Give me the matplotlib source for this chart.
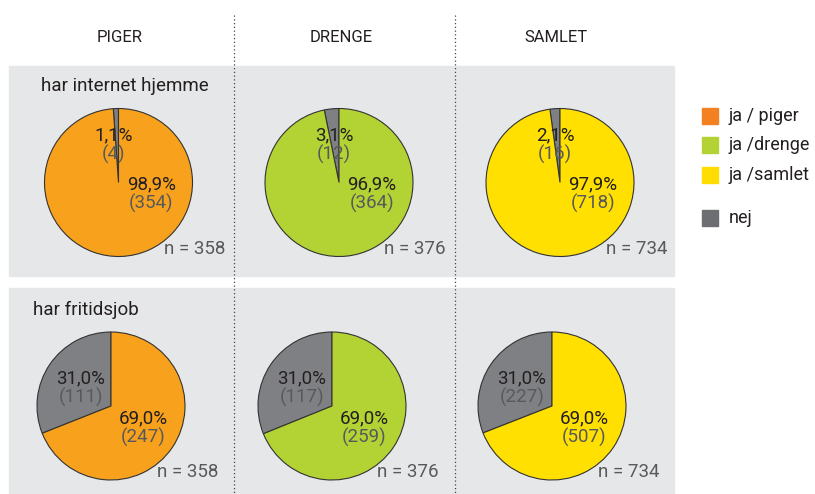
import matplotlib.pyplot as plt
from matplotlib.patches import Rectangle

plt.rcParams['font.family'] = ['Roboto', 'DejaVu Sans']

# --- data ---
grupper = ['PIGER', 'DRENGE', 'SAMLET']
spoergsmaal = ['har internet hjemme', 'har fritidsjob']
n_total = [358, 376, 734]

internet_ja = [354, 364, 718]
internet_nej = [4, 12, 16]
internet_ja_pct = ['98,9%', '96,9%', '97,9%']
internet_nej_pct = ['1,1%', '3,1%', '2,1%']

job_ja = [247, 259, 507]
job_nej = [111, 117, 227]
job_ja_pct = ['69,0%', '69,0%', '69,0%']
job_nej_pct = ['31,0%', '31,0%', '31,0%']

legend_labels = ['ja / piger', 'ja /drenge', 'ja /samlet', 'nej']

# --- styles ---
W, H = 815, 494
farver_pie = ['#F7A11C', '#B3D234', '#FFE000']
farver_legend = ['#F38021', '#B3D234', '#FFDD00', '#6D6E71']
graa_pie = '#7F8084'
panel_farve = '#E6E7E8'
tekst = '#231F20'
tekst_graa = '#58595B'

fig = plt.figure(figsize=(W / 100, H / 100), dpi=100)
ax = fig.add_axes([0, 0, 1, 1])

def py(y):
    # pixel y (fra toppen) -> data y
    return H - y

# paneler
ax.add_patch(Rectangle((9, py(276)), 665, 210, color=panel_farve, zorder=0))
ax.add_patch(Rectangle((9, py(494)), 665, 206, color=panel_farve, zorder=0))

# stiplede skillelinjer
for x in [234, 455]:
    ax.plot([x, x], [py(15), py(494)], ls=(0, (1, 2)), color='#444444', lw=0.9, zorder=5)

# kolonneoverskrifter
for x, g in zip([120, 341, 556], grupper):
    ax.text(x, py(38), g, ha='center', va='center', fontsize=12, color=tekst)

# rækketitler
ax.text(41, py(86), spoergsmaal[0], ha='left', va='center', fontsize=13.5, color=tekst)
ax.text(33, py(310), spoergsmaal[1], ha='left', va='center', fontsize=13.5, color=tekst)

r = 74
fs = 13.5
raekker = [
    dict(cx=[118.5, 339, 560], cy=182.5, ja=internet_ja, nej=internet_nej,
         ja_pct=internet_ja_pct, nej_pct=internet_nej_pct,
         nej_off=(-5, -47), ja_off=(33, 2)),
    dict(cx=[111, 332, 552], cy=406, ja=job_ja, nej=job_nej,
         ja_pct=job_ja_pct, nej_pct=job_nej_pct,
         nej_off=(-30, -28), ja_off=(32, 12)),
]

for rk in raekker:
    for i in range(3):
        cx, cy = rk['cx'][i], rk['cy']
        ax.pie([rk['nej'][i], rk['ja'][i]], colors=[graa_pie, farver_pie[i]],
               startangle=90, counterclock=True, radius=r, center=(cx, py(cy)),
               wedgeprops=dict(edgecolor='#333333', linewidth=0.8))
        # etiketter
        for off, pct, cnt in [(rk['nej_off'], rk['nej_pct'][i], rk['nej'][i]),
                              (rk['ja_off'], rk['ja_pct'][i], rk['ja'][i])]:
            ax.text(cx + off[0], py(cy + off[1]), pct, ha='center', va='center',
                    fontsize=fs, color=tekst, zorder=6)
            ax.text(cx + off[0], py(cy + off[1] + 19), f'({cnt})', ha='center',
                    va='center', fontsize=fs, color=tekst_graa, zorder=6)
        ax.text(cx + 107, py(cy + 66), f'n = {n_total[i]}', ha='right', va='center',
                fontsize=fs, color=tekst_graa, zorder=6)

# legende
for y, lab, c in zip([116, 145, 175, 218], legend_labels, farver_legend):
    ax.add_patch(Rectangle((702, py(y + 8)), 16, 16, color=c))
    ax.text(729, py(y), lab, ha='left', va='center', fontsize=13, color=tekst)

ax.set_xlim(0, W)
ax.set_ylim(0, H)
ax.set_aspect('equal')
ax.axis('off')

fig.savefig('out.png', dpi=100)
